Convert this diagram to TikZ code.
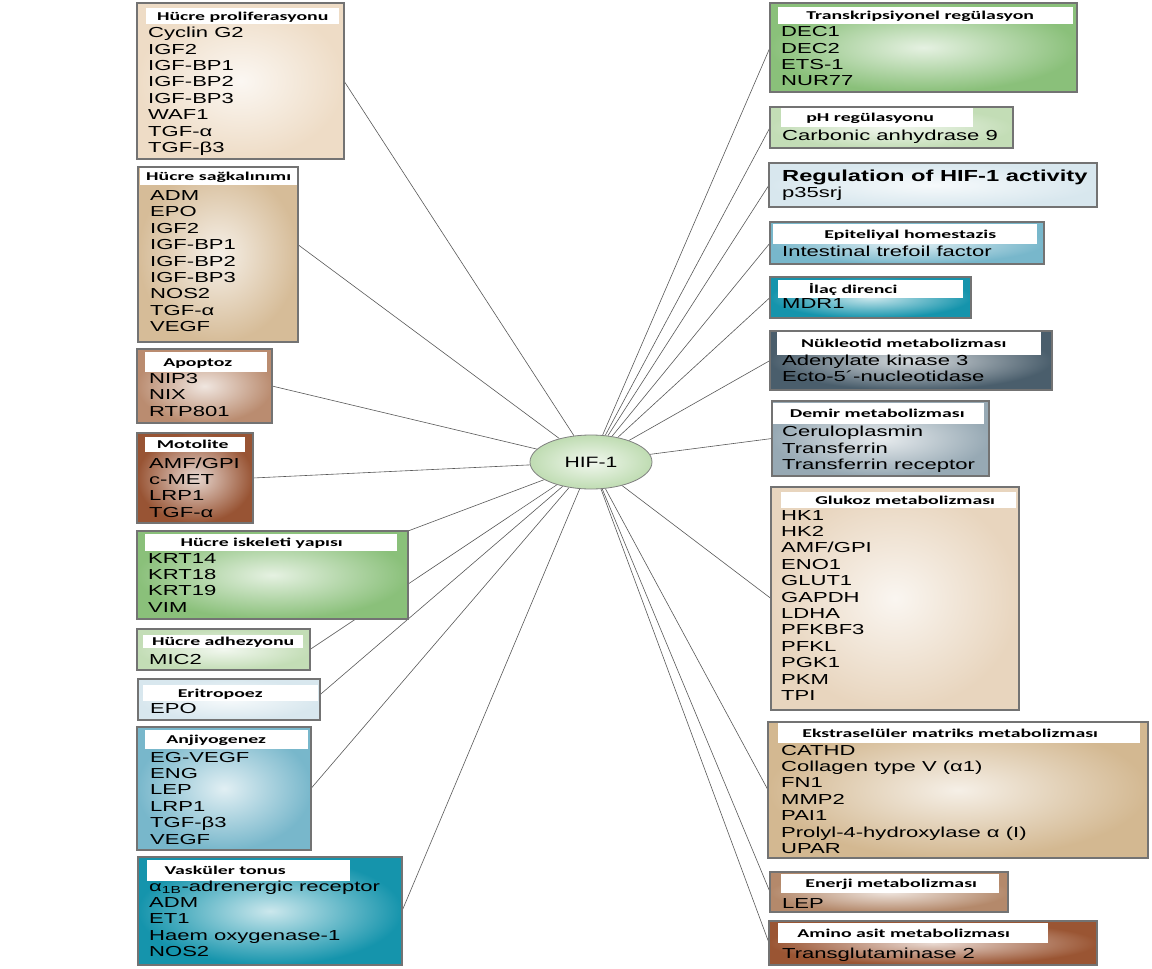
\documentclass[tikz,border=0pt]{standalone}
\usepackage{fontspec}
\usepackage{graphicx}
\setmainfont{Liberation Sans}
\newfontfamily\ttlfont{Carlito}
\usetikzlibrary{shapes.geometric,backgrounds}

\definecolor{beigeA}{HTML}{EEDCC6}
\definecolor{tanA}{HTML}{D6BC98}
\definecolor{roseA}{HTML}{BA8C70}
\definecolor{brownA}{HTML}{985434}
\definecolor{greenA}{HTML}{8AC07A}
\definecolor{greenB}{HTML}{C3DDB6}
\definecolor{blueA}{HTML}{D8E7EE}
\definecolor{blueB}{HTML}{78B7CB}
\definecolor{tealA}{HTML}{1594AC}
\definecolor{slateA}{HTML}{4A5E6C}
\definecolor{greyA}{HTML}{97A9B4}
\definecolor{beigeB}{HTML}{E8D5BE}
\definecolor{tanB}{HTML}{D3B891}
\definecolor{roseB}{HTML}{B4896B}
\definecolor{brownB}{HTML}{9A5533}
\definecolor{hifC}{HTML}{BFDCB2}

\newcommand\ttl[1]{\scalebox{1.65}[1]{#1}}
\newcommand\genes[1]{\scalebox{1.52}[1]{\begin{tabular}[t]{@{}l@{}}#1\end{tabular}}}

\tikzset{
  sz/.style 2 args={minimum width=#1pt, minimum height=#2pt},
  tint/.style={inner color=#1!22!white, outer color=#1},
  catbox/.style={draw=black!55, line width=1.1pt, anchor=north west, inner sep=0pt, outer sep=0pt},
  band/.style={fill=white, anchor=north west, inner sep=0pt},
  ttlnode/.style={font=\ttlfont\bfseries\fontsize{12}{14}\selectfont, inner sep=0pt, text height=8pt, text depth=0pt},
  items/.style={font=\fontsize{14.5}{16.4}\selectfont, anchor=base west, inner sep=0pt, text=black},
  link/.style={draw=black!65, line width=0.6pt}
}

\begin{document}
\begin{tikzpicture}[x=1pt,y=-1pt]
\useasboundingbox (0,0) rectangle (1152,969);

\node[ellipse, draw=black!50, line width=0.8pt, tint=hifC, sz={122}{54}, inner sep=0pt,
      font=\fontsize{15}{18}\selectfont] (hif) at (591,462) {\scalebox{1.41}[1]{HIF-1}};

\node[catbox, tint=beigeA, sz={207}{156}] (prolif) at (137,3) {};
\node[band, sz={193}{16}] (prolifB) at (146,8) {};
\node[ttlnode] at (prolifB) {\ttl{Hücre proliferasyonu}};
\node[items] (prolifL) at (148,37.7) {\genes{Cyclin G2\\IGF2\\IGF-BP1\\IGF-BP2\\IGF-BP3\\WAF1\\TGF-α\\TGF-β3}};

\node[catbox, tint=tanA, sz={160}{175}] (sagkal) at (138,167) {};
\node[band, sz={157}{17}] (sagkalB) at (140,168) {};
\node[ttlnode] at (sagkalB) {\ttl{Hücre sağkalınımı}};
\node[items] (sagkalL) at (150,200.5) {\genes{ADM\\EPO\\IGF2\\IGF-BP1\\IGF-BP2\\IGF-BP3\\NOS2\\TGF-α\\VEGF}};

\node[catbox, tint=roseA, sz={135}{74}] (apopt) at (137,349) {};
\node[band, sz={122}{20}] (apoptB) at (145,352) {};
\node[ttlnode, xshift=-8.5pt] at (apoptB) {\ttl{Apoptoz}};
\node[items] (apoptL) at (149,383.3) {\genes{NIP3\\NIX\\RTP801}};

\node[catbox, tint=brownA, sz={116}{90}] (motol) at (137,433) {};
\node[band, sz={100}{15}] (motolB) at (145,437) {};
\node[ttlnode, xshift=-2.5pt] at (motolB) {\ttl{Motolite}};
\node[items] (motolL) at (149,468) {\genes{AMF/GPI\\c-MET\\LRP1\\TGF-α}};

\node[catbox, tint=greenA, sz={271}{88}] (iskel) at (137,531) {};
\node[band, sz={252}{17}] (iskelB) at (145,534) {};
\node[ttlnode, xshift=-9.5pt] at (iskelB) {\ttl{Hücre iskeleti yapısı}};
\node[items] (iskelL) at (148,563) {\genes{KRT14\\KRT18\\KRT19\\VIM}};

\node[catbox, tint=greenB, sz={173}{41}] (adhez) at (137,629) {};
\node[band, sz={160}{13}] (adhezB) at (143,635) {};
\node[ttlnode] at (adhezB) {\ttl{Hücre adhezyonu}};
\node[items] (adhezL) at (149,664) {\genes{MIC2}};

\node[catbox, tint=blueA, sz={182}{41}] (eritro) at (138,679) {};
\node[band, sz={175}{16}] (eritroB) at (143,685) {};
\node[ttlnode, xshift=-10.5pt] at (eritroB) {\ttl{Eritropoez}};
\node[items] (eritroL) at (150,713) {\genes{EPO}};

\node[catbox, tint=blueB, sz={174}{123}] (anjiyo) at (137,727) {};
\node[band, sz={163}{19}] (anjiyoB) at (145,730) {};
\node[ttlnode, xshift=-10.5pt] at (anjiyoB) {\ttl{Anjiyogenez}};
\node[items] (anjiyoL) at (150,762) {\genes{EG-VEGF\\ENG\\LEP\\LRP1\\TGF-β3\\VEGF}};

\node[catbox, tint=tealA, sz={264}{108}] (vask) at (138,857) {};
\node[band, sz={203}{21}] (vaskB) at (147,860) {};
\node[ttlnode, xshift=-23.5pt] at (vaskB) {\ttl{Vasküler tonus}};
\node[items] (vaskL) at (149,891) {\genes{α\textsubscript{1B}-adrenergic receptor\\ADM\\ET1\\Haem oxygenase-1\\NOS2}};

\node[catbox, tint=greenA, sz={307}{89}] (transk) at (770,3) {};
\node[band, sz={295}{17}] (transkB) at (778,7) {};
\node[ttlnode, xshift=-5.5pt] at (transkB) {\ttl{Transkripsiyonel regülasyon}};
\node[items] (transkL) at (781,36.7) {\genes{DEC1\\DEC2\\ETS-1\\NUR77}};

\node[catbox, tint=greenB, sz={243}{41}] (phreg) at (770,107) {};
\node[band, sz={192}{19}] (phregB) at (781,108) {};
\node[ttlnode, xshift=-7pt] at (phregB) {\ttl{pH regülasyonu}};
\node[items] (phregL) at (782,140) {\genes{Carbonic anhydrase 9}};

\node[catbox, tint=blueA, sz={328}{44}] (hifreg) at (769,163) {};
\node[items, font=\bfseries\fontsize{16}{18}\selectfont] (hifregT) at (782,181.7) {\scalebox{1.48}[1]{Regulation of HIF-1 activity}};
\node[items] (hifregL) at (782,197) {\genes{p35srj}};

\node[catbox, tint=blueB, sz={274}{42}] (epit) at (770,222) {};
\node[band, sz={264}{20}] (epitB) at (773,224) {};
\node[ttlnode, xshift=5pt] at (epitB) {\ttl{Epiteliyal homestazis}};
\node[items] (epitL) at (782,256) {\genes{Intestinal trefoil factor}};

\node[catbox, tint=tealA, sz={201}{41}] (ilac) at (770,277) {};
\node[band, sz={185}{18}] (ilacB) at (778,280) {};
\node[ttlnode, xshift=-17.5pt] at (ilacB) {\ttl{İlaç direnci}};
\node[items] (ilacL) at (782,308.3) {\genes{MDR1}};

\node[catbox, tint=slateA, sz={282}{59}] (nukleo) at (770,331) {};
\node[band, sz={264}{23}] (nukleoB) at (777,332) {};
\node[ttlnode, xshift=-5.5pt] at (nukleoB) {\ttl{Nükleotid metabolizması}};
\node[items] (nukleoL) at (782,365) {\genes{Adenylate kinase 3\\Ecto-5´-nucleotidase}};

\node[catbox, tint=greyA, sz={217}{75}] (demir) at (772,401) {};
\node[band, sz={211}{21}] (demirB) at (773,403) {};
\node[ttlnode, xshift=-1.5pt] at (demirB) {\ttl{Demir metabolizması}};
\node[items] (demirL) at (782,436.7) {\genes{Ceruloplasmin\\Transferrin\\Transferrin receptor}};

\node[catbox, tint=beigeB, sz={248}{223}] (glukoz) at (771,487) {};
\node[band, sz={235}{16}] (glukozB) at (781,492) {};
\node[ttlnode, xshift=6.5pt] at (glukozB) {\ttl{Glukoz metabolizması}};
\node[items] (glukozL) at (781,520) {\genes{HK1\\HK2\\AMF/GPI\\ENO1\\GLUT1\\GAPDH\\LDHA\\PFKBF3\\PFKL\\PGK1\\PKM\\TPI}};

\node[catbox, tint=tanB, sz={380}{136}] (ekstra) at (768,722) {};
\node[band, sz={362}{20}] (ekstraB) at (778,723) {};
\node[ttlnode, xshift=-9pt] at (ekstraB) {\ttl{Ekstraselüler matriks metabolizması}};
\node[items] (ekstraL) at (781,755) {\genes{CATHD\\Collagen type V (α1)\\FN1\\MMP2\\PAI1\\Prolyl-4-hydroxylase α (I)\\UPAR}};

\node[catbox, tint=roseB, sz={238}{40}] (enerji) at (770,872) {};
\node[band, sz={218}{19}] (enerjiB) at (781,874) {};
\node[ttlnode, xshift=1pt] at (enerjiB) {\ttl{Enerji metabolizması}};
\node[items] (enerjiL) at (782,908) {\genes{LEP}};

\node[catbox, tint=brownB, sz={328}{44}] (amino) at (769,921) {};
\node[band, sz={270}{20}] (aminoB) at (778,923) {};
\node[ttlnode, xshift=-9.5pt] at (aminoB) {\ttl{Amino asit metabolizması}};
\node[items] (aminoL) at (782,958) {\genes{Transglutaminase 2}};

\begin{pgfonlayer}{background}
\fill[white] (0,0) rectangle (1152,969);
\foreach \b/\a in {prolif/east, sagkal/7, apopt/east, motol/east, iskel/north east, adhez/east,
                   eritro/3, anjiyo/east, vask/east,
                   transk/west, phreg/west, hifreg/west, epit/west, ilac/west, nukleo/west,
                   demir/west, glukoz/west, ekstra/west, enerji/west, amino/west}
  \draw[link] (hif) -- (\b.\a);
\end{pgfonlayer}
\end{tikzpicture}
\end{document}
